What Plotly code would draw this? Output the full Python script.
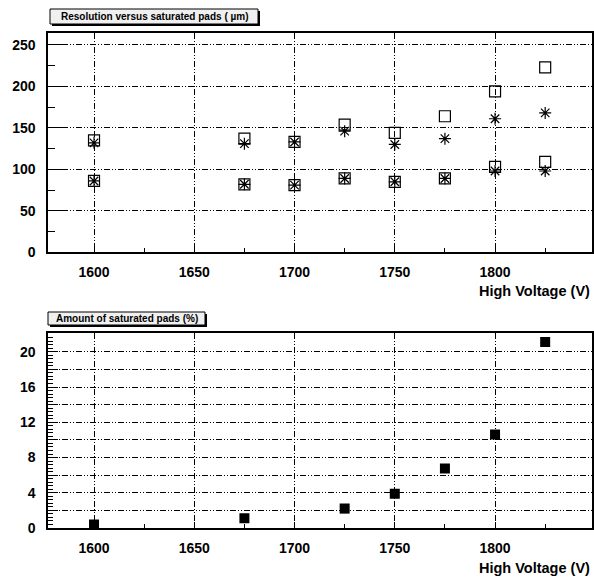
import plotly.graph_objects as go

# high voltage settings (V)
hv_res = [1600, 1675, 1700, 1725, 1750, 1775, 1800, 1825]
# resolution (um), upper group and lower group
res_hi_sq = [135, 137, 133, 154, 144, 164, 194, 223]
res_hi_star = [132, 131, 133, 146, 130, 137, 161, 168]
res_lo_sq = [86, 82, 81, 89, 85, 89, 103, 109]
res_lo_star = [86, 82, 81, 89, 85, 89, 98, 98]

# amount of saturated pads (%)
hv_sat = [1600, 1675, 1725, 1750, 1775, 1800, 1825]
sat_pct = [0.4, 1.1, 2.2, 3.9, 6.75, 10.6, 21.1]

x_ticks = [1600, 1650, 1700, 1750, 1800]
res_ticks = [0, 50, 100, 150, 200, 250]
sat_ticks = [0, 2, 4, 6, 8, 10, 12, 14, 16, 18, 20, 22]
sat_text = ["0", "", "4", "", "8", "", "12", "", "16", "", "20", ""]

W, H = 594, 578
FIG_H = 586  # capture comes out slightly squeezed vertically
FONT = "Liberation Sans"
GRID = "6px,2px,1px,2px,1px,2px"


def px(x):
    return x / W


def py(y):
    return 1 - y / H


fig = go.Figure()

sq = dict(symbol="square-open", size=11, color="black", line=dict(width=1.2, color="black"))
star = dict(symbol="asterisk-open", size=10, color="black", line=dict(width=1.2, color="black"))

fig.add_trace(go.Scatter(x=hv_res, y=res_hi_sq, mode="markers", marker=sq, xaxis="x", yaxis="y"))
fig.add_trace(go.Scatter(x=hv_res, y=res_lo_sq, mode="markers", marker=sq, xaxis="x", yaxis="y"))
fig.add_trace(go.Scatter(x=hv_res, y=res_hi_star, mode="markers", marker=star, xaxis="x", yaxis="y"))
fig.add_trace(go.Scatter(x=hv_res, y=res_lo_star, mode="markers", marker=star, xaxis="x", yaxis="y"))

fig.add_trace(
    go.Scatter(
        x=hv_sat, y=sat_pct, mode="markers",
        marker=dict(symbol="square", size=10, color="black"),
        xaxis="x2", yaxis="y2",
    )
)

tickfont = dict(family=FONT, size=14, color="black", weight="bold")

common_x = dict(
    range=[1577.2, 1848.2],
    tickvals=x_ticks,
    showgrid=True, gridcolor="black", gridwidth=1, griddash=GRID,
    showline=True, linecolor="black", linewidth=2, mirror=True,
    ticks="inside", ticklen=6, tickcolor="black",
    minor=dict(dtick=25, tick0=1600, ticks="inside", ticklen=4, tickcolor="black", showgrid=False),
    tickfont=tickfont, ticklabelstandoff=6, zeroline=False,
)
common_y = dict(
    showgrid=True, gridcolor="black", gridwidth=1, griddash=GRID,
    showline=True, linecolor="black", linewidth=2, mirror=True,
    ticks="inside", tickcolor="black",
    tickfont=tickfont, ticklabelstandoff=8, zeroline=False,
)

fig.update_layout(
    width=W, height=FIG_H,
    margin=dict(l=0, r=0, t=0, b=0),
    paper_bgcolor="white", plot_bgcolor="white",
    showlegend=False,
    xaxis=dict(common_x, domain=[px(48.3), px(591.7)], anchor="y"),
    yaxis=dict(
        common_y, domain=[py(252.3), py(33.3)], anchor="x",
        range=[0, 264], tickvals=res_ticks, ticklen=14,
        minor=dict(dtick=25, tick0=0, ticks="inside", ticklen=7, tickcolor="black", showgrid=False),
    ),
    xaxis2=dict(common_x, domain=[px(48.3), px(591.7)], anchor="y2"),
    yaxis2=dict(
        common_y, domain=[py(528), py(333.3)], anchor="x2",
        range=[0, 22.1], tickvals=sat_ticks, ticktext=sat_text, ticklen=10,
        minor=dict(dtick=0.4, tick0=0, ticks="inside", ticklen=5, tickcolor="black", showgrid=False),
    ),
)

# title boxes with shadow
boxes = [
    (50, 9, 258, 24, "Resolution versus saturated pads ( \u00b5m)"),
    (48, 312, 205, 325, "Amount of saturated pads (%)"),
]
for x0, y0, x1, y1, txt in boxes:
    fig.add_shape(type="rect", xref="paper", yref="paper",
                  x0=px(x0 + 2), x1=px(x1 + 2), y0=py(y1 + 2), y1=py(y0 + 2),
                  fillcolor="black", line=dict(width=0))
    fig.add_shape(type="rect", xref="paper", yref="paper",
                  x0=px(x0), x1=px(x1), y0=py(y1), y1=py(y0),
                  fillcolor="#f0f0f0", line=dict(color="black", width=1))
    fig.add_annotation(x=px((x0 + x1) / 2), y=py((y0 + y1) / 2), xref="paper", yref="paper",
                       text=txt, showarrow=False, xanchor="center", yanchor="middle",
                       font=dict(family=FONT, size=10, color="black", weight="bold"))

for yy in [291, 568]:
    fig.add_annotation(x=px(592), y=py(yy), xref="paper", yref="paper",
                       text="High Voltage (V)", showarrow=False, xanchor="right", yanchor="middle",
                       font=dict(family=FONT, size=14.5, color="black", weight="bold"))

# drop the default page margin so the figure fills the window exactly
fig.write_html("out.html", post_script="document.body.style.margin='0';",
               config={"displayModeBar": False})
